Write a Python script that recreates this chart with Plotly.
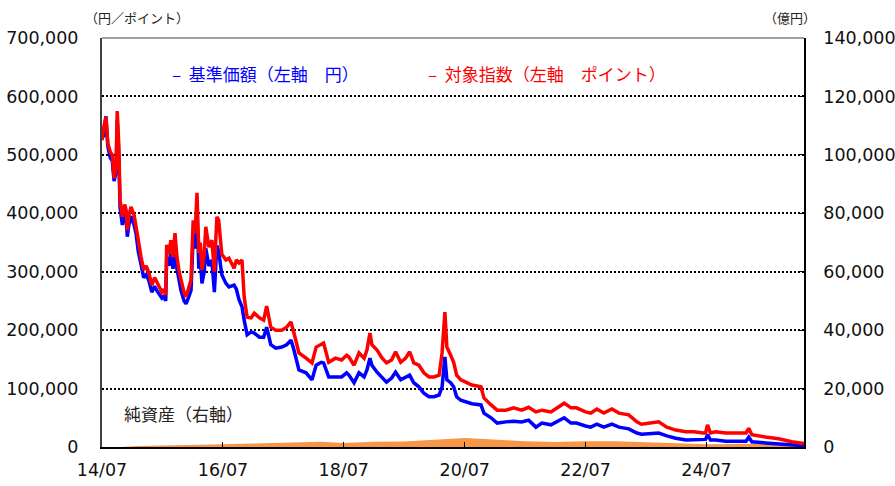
import plotly.graph_objects as go

# ---- data ----
dates = [
    "2014-07-01", "2014-07-10", "2014-07-25", "2014-08-05", "2014-08-20", "2014-09-01", "2014-09-12", "2014-09-24",
    "2014-10-01", "2014-10-10", "2014-10-18", "2014-11-01", "2014-11-15", "2014-11-24", "2014-12-01", "2014-12-10",
    "2014-12-23", "2015-01-11", "2015-01-23", "2015-02-05", "2015-02-22", "2015-03-10", "2015-03-25", "2015-04-10",
    "2015-04-28", "2015-05-15", "2015-05-28", "2015-06-10", "2015-06-28", "2015-07-10", "2015-07-21", "2015-07-27",
    "2015-08-10", "2015-08-21", "2015-09-03", "2015-09-15", "2015-09-27", "2015-10-10", "2015-10-21", "2015-11-09",
    "2015-11-21", "2015-12-05", "2015-12-21", "2016-01-03", "2016-01-15", "2016-01-26", "2016-02-06", "2016-02-15",
    "2016-02-25", "2016-03-10", "2016-03-19", "2016-04-07", "2016-04-25", "2016-05-10", "2016-05-25", "2016-06-05",
    "2016-06-24", "2016-07-19", "2016-08-06", "2016-09-06", "2016-09-20", "2016-10-06", "2016-10-24", "2016-11-06",
    "2016-11-24", "2016-12-18", "2017-01-06", "2017-02-06", "2017-03-04", "2017-03-22", "2017-04-16", "2017-05-16",
    "2017-06-21", "2017-07-21", "2017-08-16", "2017-09-03", "2017-10-03", "2017-11-15", "2017-12-21", "2018-01-15",
    "2018-02-15", "2018-03-01", "2018-04-01", "2018-05-12", "2018-06-18", "2018-07-18", "2018-08-01", "2018-09-01",
    "2018-10-01", "2018-11-01", "2018-11-18", "2018-12-06", "2018-12-18", "2019-01-18", "2019-02-18", "2019-03-16",
    "2019-04-16", "2019-05-10", "2019-06-10", "2019-07-10", "2019-08-03", "2019-08-28", "2019-09-28", "2019-10-28",
    "2019-11-28", "2019-12-28", "2020-01-28", "2020-02-15", "2020-03-03", "2020-03-15", "2020-04-07", "2020-04-25",
    "2020-05-13", "2020-06-07", "2020-07-07", "2020-08-13", "2020-10-07", "2020-10-25", "2020-12-07", "2021-01-13",
    "2021-03-07", "2021-04-22", "2021-06-10", "2021-07-22", "2021-09-04", "2021-10-10", "2021-12-04", "2022-01-10",
    "2022-02-22", "2022-04-04", "2022-05-07", "2022-07-01", "2022-08-01", "2022-09-07", "2022-10-19", "2022-12-07",
    "2023-01-19", "2023-03-19", "2023-05-07", "2023-06-04", "2023-07-28", "2023-09-16", "2023-11-04", "2023-12-28",
    "2024-02-28", "2024-04-15", "2024-06-13", "2024-06-25", "2024-07-07", "2024-07-25", "2024-08-25", "2024-10-25",
    "2024-12-25", "2025-02-25", "2025-03-13", "2025-04-01", "2025-06-22", "2025-09-10", "2025-11-28", "2026-01-28",
    "2026-02-10",
]

index_vals = [  # 対象指数 (points)
    525000, 545000, 565000, 520000, 505000, 500000, 460000, 480000,
    575000, 520000, 423000, 394000, 415000, 405000, 371000, 395000,
    411000, 397000, 377000, 350000, 325000, 303000, 310000, 298000,
    277000, 290000, 282000, 275000, 265000, 270000, 260000, 346000,
    330000, 354000, 325000, 366000, 325000, 300000, 286000, 264000,
    257000, 270000, 286000, 388000, 366000, 435000, 332000, 350000,
    303000, 330000, 377000, 342000, 354000, 300000, 394000, 388000,
    330000, 320000, 323000, 306000, 320000, 315000, 320000, 257000,
    222000, 221000, 229000, 221000, 217000, 241000, 205000, 200000,
    200000, 205000, 214000, 195000, 161000, 152000, 144000, 171000,
    175000, 178000, 145000, 152000, 149000, 157000, 154000, 140000,
    161000, 152000, 166000, 195000, 175000, 166000, 152000, 144000,
    149000, 163000, 145000, 152000, 163000, 144000, 140000, 127000,
    120000, 120000, 123000, 161000, 231000, 171000, 157000, 145000,
    123000, 115000, 111000, 106000, 103000, 84000, 72000, 63000,
    63000, 67000, 63000, 68000, 60000, 63000, 60000, 67000,
    75000, 67000, 67000, 60000, 58000, 65000, 58000, 65000,
    58000, 55000, 43000, 39000, 41000, 43000, 34000, 29000,
    26000, 26000, 24000, 24000, 38000, 24000, 26000, 24000,
    24000, 24000, 32000, 21000, 17000, 14000, 9000, 7000,
    6000,
]

nav_vals = [  # 基準価額 (yen)
    540000, 530000, 566000, 515000, 495000, 490000, 455000, 470000,
    560000, 505000, 410000, 380000, 400000, 390000, 360000, 380000,
    395000, 380000, 365000, 335000, 312000, 290000, 295000, 285000,
    265000, 275000, 268000, 262000, 255000, 258000, 250000, 325000,
    310000, 335000, 305000, 340000, 305000, 285000, 268000, 250000,
    245000, 255000, 268000, 360000, 340000, 405000, 305000, 322000,
    280000, 300000, 340000, 310000, 320000, 265000, 345000, 335000,
    295000, 280000, 274000, 277000, 270000, 252000, 240000, 217000,
    192000, 197000, 195000, 188000, 188000, 205000, 175000, 169000,
    171000, 175000, 183000, 166000, 132000, 127000, 115000, 140000,
    145000, 144000, 120000, 120000, 120000, 127000, 123000, 110000,
    127000, 120000, 132000, 152000, 140000, 128000, 118000, 111000,
    118000, 128000, 115000, 120000, 123000, 110000, 103000, 92000,
    86000, 86000, 89000, 103000, 154000, 115000, 110000, 103000,
    86000, 80000, 77000, 74000, 72000, 58000, 50000, 41000,
    43000, 44000, 43000, 46000, 34000, 41000, 38000, 43000,
    50000, 41000, 41000, 36000, 34000, 39000, 34000, 39000,
    34000, 31000, 24000, 22000, 23000, 24000, 19000, 15000,
    12000, 12000, 12000, 13000, 21000, 12000, 12000, 10000,
    10000, 10000, 17000, 9000, 7000, 5000, 2500, 2000,
    2000,
]

asset_dates = [
    "2014-07-01", "2014-10-20", "2015-02-01", "2015-06-01", "2015-10-01", "2016-01-01", "2016-07-01",
    "2017-01-01", "2017-07-01", "2018-01-01", "2018-02-15", "2018-07-01", "2019-01-01", "2019-07-01",
    "2020-01-01", "2020-03-15", "2020-07-01", "2020-10-01", "2021-01-01", "2021-07-01", "2022-01-01",
    "2022-03-15", "2022-07-01", "2023-01-01", "2023-07-01", "2024-01-01", "2024-07-01", "2025-01-01",
    "2025-07-01", "2026-02-10",
]
asset_vals = [  # 純資産 (億円)
    0, 0, 300, 500, 600, 700, 900,
    1200, 1400, 1500, 1800, 1400, 1800, 1900,
    2400, 2800, 3100, 2800, 2500, 2000, 1700,
    1900, 2000, 2000, 1600, 1200, 900, 1000,
    1300, 1500,
]

x_tick_vals = ["2014-07-01", "2016-07-01", "2018-07-01", "2020-07-01", "2022-07-01", "2024-07-01"]
x_tick_text = ["14/07", "16/07", "18/07", "20/07", "22/07", "24/07"]
left_ticks = [0, 100000, 200000, 300000, 400000, 500000, 600000, 700000]
right_ticks = [0, 20000, 40000, 60000, 80000, 100000, 120000, 140000]

NUM_FONT = "DejaVu Sans"
JP_FONT = "Noto Sans CJK JP"

fig = go.Figure()
fig.add_trace(go.Scatter(
    x=asset_dates, y=asset_vals, yaxis="y", mode="lines", fill="tozeroy",
    line=dict(width=0, color="#F79646"), fillcolor="#F79646", showlegend=False,
    hoverinfo="skip",
))
fig.add_trace(go.Scatter(
    x=dates, y=nav_vals, yaxis="y2", mode="lines",
    line=dict(color="#0000FF", width=3.5), showlegend=False,
))
fig.add_trace(go.Scatter(
    x=dates, y=index_vals, yaxis="y2", mode="lines",
    line=dict(color="#FF0000", width=3.5), showlegend=False,
))

fig.update_layout(
    width=895, height=486,
    margin=dict(l=102, r=91, t=38, b=39),
    paper_bgcolor="white", plot_bgcolor="white",
    showlegend=False,
    xaxis=dict(
        type="date", range=["2014-07-01", "2026-02-10"], automargin=False,
        tickmode="array", tickvals=x_tick_vals, ticktext=x_tick_text,
        ticks="inside", ticklen=5, tickwidth=1, tickcolor="black",
        showline=True, linecolor="black", linewidth=2,
        showgrid=False, zeroline=False,
        tickfont=dict(family=NUM_FONT, size=17.5, color="#111111"),
        ticklabelstandoff=6,
    ),
    yaxis=dict(
        side="right", range=[0, 140000], automargin=False,
        tickmode="array", tickvals=right_ticks, tickformat=",",
        showgrid=False, zeroline=False,
        showline=True, linecolor="black", linewidth=1.5,
        ticks="inside", ticklen=4, tickcolor="black",
        tickfont=dict(family=NUM_FONT, size=17.5, color="#111111"),
        ticklabelstandoff=14,
    ),
    yaxis2=dict(
        side="left", overlaying="y", range=[0, 700000], automargin=False,
        tickmode="array", tickvals=left_ticks, tickformat=",",
        showgrid=True, gridcolor="black", gridwidth=2, griddash="2px,2px",
        zeroline=False,
        showline=True, linecolor="#404040", linewidth=2,
        ticks="",
        tickfont=dict(family=NUM_FONT, size=17.5, color="#111111"),
        ticklabelstandoff=18,
    ),
    shapes=[dict(
        type="line", xref="paper", yref="paper", x0=0, x1=1, y0=1, y1=1,
        line=dict(color="#A0A0A0", width=2), layer="above",
    )],
    annotations=[
        dict(text="（円／ポイント）", xref="paper", yref="paper", x=0.05, y=1.051,
             xanchor="center", yanchor="middle", showarrow=False,
             font=dict(family=JP_FONT, size=13, color="#222222")),
        dict(text="（億円）", xref="paper", yref="paper", x=0.98, y=1.051,
             xanchor="center", yanchor="middle", showarrow=False,
             font=dict(family=JP_FONT, size=13, color="#222222")),
        dict(text="–  基準価額（左軸　円）", xref="paper", yref="paper", x=0.097, y=0.914,
             xanchor="left", yanchor="middle", showarrow=False,
             font=dict(family=JP_FONT, size=17, color="#0000FF")),
        dict(text="–  対象指数（左軸　ポイント）", xref="paper", yref="paper", x=0.4615, y=0.914,
             xanchor="left", yanchor="middle", showarrow=False,
             font=dict(family=JP_FONT, size=17, color="#FF0000")),
        dict(text="純資産（右軸）", xref="paper", yref="paper", x=0.0285, y=0.083,
             xanchor="left", yanchor="middle", showarrow=False,
             font=dict(family=JP_FONT, size=17, color="#222222")),
    ],
)

fig.write_html(
    "out.html",
    config={"displayModeBar": False},
    post_script="document.body.style.margin='0';document.body.style.overflow='hidden';",
)
